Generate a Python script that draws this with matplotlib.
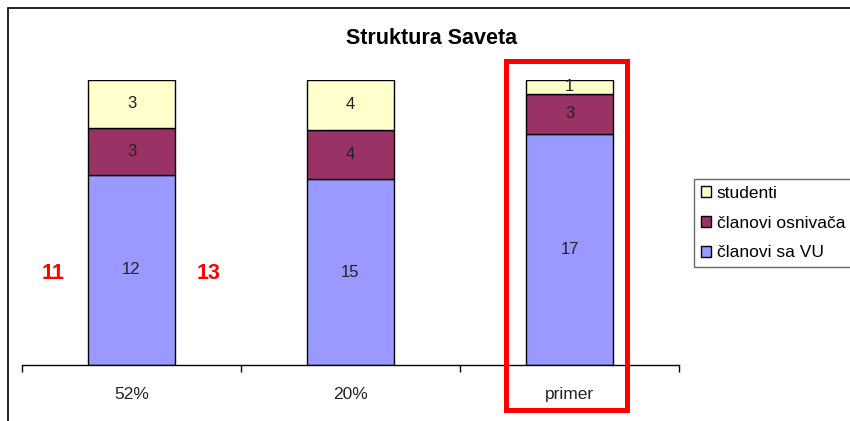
import numpy as np
import matplotlib
matplotlib.use('Agg')
import matplotlib.pyplot as plt
from matplotlib.patches import Rectangle

plt.rcParams['font.family'] = ['Liberation Sans', 'DejaVu Sans']

# data
categories = ['52%', '20%', 'primer']
clanovi_sa_vu = [12, 15, 17]
clanovi_osnivaca = [3, 4, 3]
studenti = [3, 4, 1]
series_names = ['članovi sa VU', 'članovi osnivača', 'studenti']
colors = ['#9999FF', '#993366', '#FFFFCC']
side_labels = ['11', '13']

series = np.array([clanovi_sa_vu, clanovi_osnivaca, studenti], dtype=float)
totals = series.sum(axis=0)
shares = series / totals  # 100% stacked

fig = plt.figure(figsize=(8.5, 4.21), dpi=100)
W, H = 850, 421
ax = fig.add_axes([22 / W, 1 - 365 / H, 657 / W, 285 / H])

x = np.arange(len(categories))
bottom = np.zeros(len(categories))
bars = []
for i in range(len(series)):
    b = ax.bar(x, shares[i], 0.40, bottom=bottom, color=colors[i],
               edgecolor='black', linewidth=1, label=series_names[i])
    for xi, v, s, bt in zip(x, series[i], shares[i], bottom):
        ax.text(xi, bt + s / 2, f'{int(v)}', ha='center', va='center',
                fontsize=12, color='#222222')
    bottom += shares[i]
    bars.append(b)

ax.set_xlim(-0.5, len(categories) - 0.5)
ax.set_ylim(0, 1)
for s in ['left', 'right', 'top']:
    ax.spines[s].set_visible(False)
ax.spines['bottom'].set_linewidth(1)
ax.set_yticks([])

ax.set_xticks(np.arange(len(categories) + 1) - 0.5)
ax.set_xticklabels([])
ax.tick_params(axis='x', which='major', direction='out', length=5, width=1)
ax.set_xticks(x, minor=True)
ax.set_xticklabels(categories, minor=True, fontsize=12.5, color='#222222')
ax.tick_params(axis='x', which='minor', length=0, pad=16)

# red side numbers around first bar
ax.text(-0.36, 0.32, side_labels[0], ha='center', va='center',
        fontsize=15.5, fontweight='bold', color='#FF0000')
ax.text(0.35, 0.32, side_labels[1], ha='center', va='center',
        fontsize=15.5, fontweight='bold', color='#FF0000')

fig.text(432 / W, 1 - 38 / H, 'Struktura Saveta', ha='center', va='center',
         fontsize=15.5, fontweight='bold')

handles = bars[::-1]
leg = fig.legend(handles, series_names[::-1], loc='upper left',
                 bbox_to_anchor=(694 / W, 1 - 179 / H), fontsize=12.5,
                 frameon=True, fancybox=False, edgecolor='#444444',
                 handlelength=0.6, handleheight=0.6, handletextpad=0.3,
                 borderpad=0.4, labelspacing=0.85, borderaxespad=0)
leg.get_frame().set_linewidth(1)

# chart area frame (left and top edges visible)
fig.add_artist(Rectangle((7.5 / W, -0.1), 1.2, 1.1 - 8.5 / H,
                         transform=fig.transFigure, fill=False,
                         edgecolor='black', linewidth=1.2))

# red highlight box around the example bar
fig.add_artist(Rectangle((505.5 / W, 1 - 409.5 / H), 121 / W, 349 / H,
                         transform=fig.transFigure, fill=False,
                         edgecolor='#FF0000', linewidth=3.6))

fig.savefig('out.png', dpi=100)
